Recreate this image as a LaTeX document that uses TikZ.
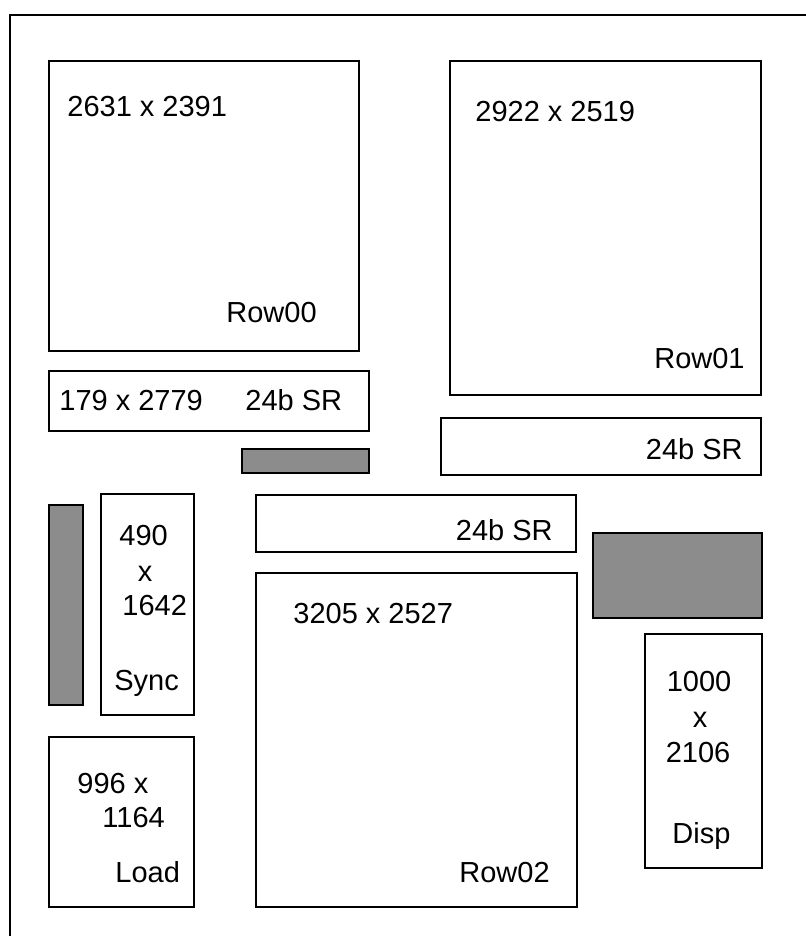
\documentclass[tikz,border=0pt]{standalone}
\usepackage{fontspec}
\setmainfont{Liberation Sans}
\usetikzlibrary{fit}
\begin{document}
\begin{tikzpicture}[x=0.5pt,y=-0.5pt,
  box/.style={draw=black,line width=0.85pt,inner sep=0pt,fill=white},
  shadebox/.style={draw=black,line width=0.85pt,inner sep=0pt,fill=black!45},
  lbl/.style={inner sep=0pt,font=\fontsize{14.5}{17}\selectfont,text=black}]
\useasboundingbox (0,0) rectangle (806,936);
\coordinate (fbl) at (10,936);
\coordinate (ftl) at (10,15);
\coordinate (ftr) at (806,15);
\draw[line width=1pt] (fbl) -- (ftl) -- (ftr);
% boxes
\node[box,fit={(49,61) (359,351)}] (row00) {};
\node[box,fit={(49,371) (369,431)}] (sr1) {};
\node[shadebox,fit={(242,449) (369,473)}] (sh1) {};
\node[box,fit={(450,61) (761,395)}] (row01) {};
\node[box,fit={(441,418) (761,475)}] (sr2) {};
\node[box,fit={(256,495) (576,552)}] (sr3) {};
\node[box,fit={(256,573) (577,907)}] (row02) {};
\node[shadebox,fit={(593,533) (762,618)}] (sh2) {};
\node[box,fit={(645,634) (762,868)}] (disp) {};
\node[shadebox,fit={(49,505) (83,705)}] (sh3) {};
\node[box,fit={(101,494) (194,715)}] (sync) {};
\node[box,fit={(49,737) (194,907)}] (load) {};
% labels
\node[lbl,anchor=base west] (t1) at (67,117) {2631 x 2391};
\node[lbl,anchor=base west] (t2) at (226,322) {Row00};
\node[lbl,anchor=base west] (t3) at (59,410) {179 x 2779};
\node[lbl,anchor=base west] (t4) at (245,410) {24b SR};
\node[lbl,anchor=base west] (t5) at (475,122) {2922 x 2519};
\node[lbl,anchor=base east] (t6) at (745,368) {Row01};
\node[lbl,anchor=base east] (t7) at (743,459) {24b SR};
\node[lbl,anchor=base east] (t8) at (553,540) {24b SR};
\node[lbl,anchor=base west] (t9) at (293,623) {3205 x 2527};
\node[lbl,anchor=base west] (t10) at (459,882) {Row02};
\node[lbl,anchor=base] (t11) at (699,691) {1000};
\node[lbl,anchor=base] (t12) at (700,727) {x};
\node[lbl,anchor=base] (t13) at (698,762) {2106};
\node[lbl,anchor=base west] (t14) at (672,843) {Disp};
\node[lbl,anchor=base west] (t15) at (119,545) {490};
\node[lbl,anchor=base] (t16) at (145,581) {x};
\node[lbl,anchor=base west] (t17) at (122,615) {1642};
\node[lbl,anchor=base west] (t18) at (114,690) {Sync};
\node[lbl,anchor=base west] (t19) at (77,793) {996 x};
\node[lbl,anchor=base west] (t20) at (102,827) {1164};
\node[lbl,anchor=base west] (t21) at (115,882) {Load};
\end{tikzpicture}
\end{document}
